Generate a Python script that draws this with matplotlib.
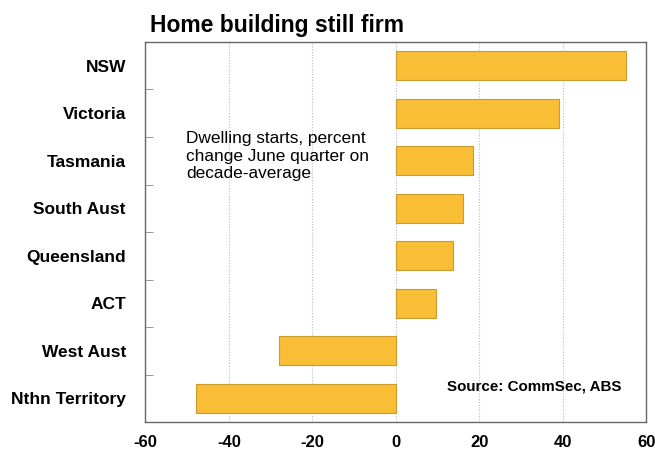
import matplotlib.pyplot as plt
import numpy as np

plt.rcParams['font.family'] = ['Liberation Sans', 'DejaVu Sans']

states = ['NSW', 'Victoria', 'Tasmania', 'South Aust', 'Queensland', 'ACT',
          'West Aust', 'Nthn Territory']
change = [55, 39, 18.5, 16, 13.7, 9.7, -28, -48]

fig = plt.figure(figsize=(6.55, 4.51), dpi=100)
ax = fig.add_axes([0.222, 0.064, 0.765, 0.843])

ys = np.arange(len(states))
ax.barh(ys, change, height=0.61, color='#F9BE35', edgecolor='#C99A2E',
        linewidth=0.8, zorder=3)

ax.set_ylim(len(states) - 0.5, -0.5)
ax.set_xlim(-60, 60)
ax.set_xticks(np.arange(-60, 61, 20))
ax.set_xticklabels([str(v) for v in range(-60, 61, 20)],
                   fontsize=12, fontweight='bold')
ax.set_yticks(ys)
ax.set_yticklabels(states, fontsize=12.5, fontweight='bold')
ax.set_yticks(np.arange(0.5, len(states) - 1, 1), minor=True)
ax.tick_params(axis='y', which='major', length=0, pad=14)
ax.tick_params(axis='y', which='minor', length=6, direction='in',
               color='#888888')
ax.tick_params(axis='x', length=0, pad=9)
ax.grid(axis='x', linestyle=(0, (1, 1.5)), color='#bbbbbb', linewidth=0.8,
        zorder=0)

for s in ax.spines.values():
    s.set_color('#666666')
    s.set_linewidth(1.0)

fig.text(0.229, 0.929, 'Home building still firm', fontsize=16.5,
         fontweight='bold', va='baseline')
ax.text(-50.3, 1.9, 'Dwelling starts, percent\nchange June quarter on\ndecade-average',
        fontsize=12.4, va='center', linespacing=1.22)
ax.text(12.3, 6.74, 'Source: CommSec, ABS', fontsize=10.9, fontweight='bold',
        va='center')

fig.savefig('out.png', dpi=100)
